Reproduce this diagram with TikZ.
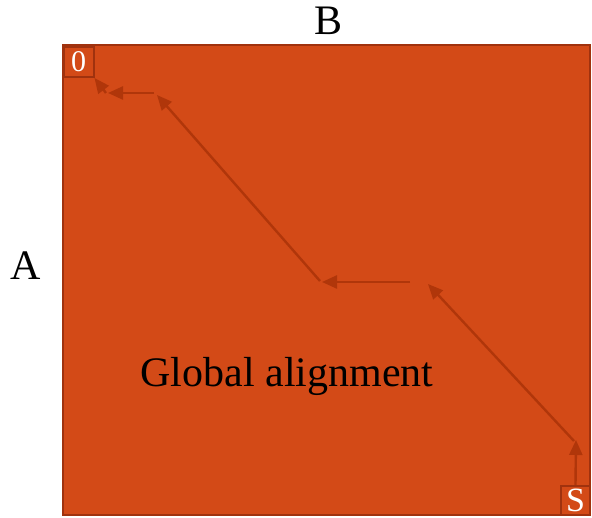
\documentclass[tikz,border=0pt]{standalone}
\usepackage{fontspec}
\setmainfont{Liberation Serif}
\usetikzlibrary{calc, positioning}
\usetikzlibrary{arrows.meta}

\definecolor{cellfill}{RGB}{211,74,23}
\definecolor{celledge}{RGB}{160,50,14}
\definecolor{tracecol}{RGB}{176,54,10}

\tikzset{
  cornerbox/.style={draw=celledge, line width=2pt, fill=cellfill, text=white,
    minimum size=30pt, inner sep=0pt},
  trace/.style={draw=tracecol, line width=2.4pt, -{Triangle[length=15pt,width=13pt]}}
}

\begin{document}
\begin{tikzpicture}[x=1pt,y=-1pt]
\useasboundingbox (0,0) rectangle (592,518);

\coordinate (M1) at (63,45);
\coordinate (M2) at (590,515);
\draw[draw=celledge, line width=2pt, fill=cellfill] (M1) rectangle (M2);

\node[cornerbox, font=\fontsize{30}{32}\selectfont] (orig) at (78.5,62) {0};
\node[cornerbox, minimum size=29pt, font=\fontsize{34}{36}\selectfont] (send) at (575.5,500.5) {S};

\node[anchor=base, font=\fontsize{42}{48}\selectfont] (seqA) at (26,280) {A};
\node[anchor=base, font=\fontsize{42}{48}\selectfont] (seqB) at (329,35) {B};
\node[anchor=base, font=\fontsize{42}{48}\selectfont] (title) at (287,387) {Global alignment};

% traceback path
\coordinate (T1) at (576,440);
\coordinate (T2a) at (574,441);
\coordinate (T2) at (428,284);
\coordinate (T3a) at (410,282);
\coordinate (T3) at (322,282);
\coordinate (T4a) at (320,281);
\coordinate (T4) at (157,95);
\coordinate (T5a) at (154,93);
\coordinate (T5) at (108,93);
\coordinate (T6a) at (106,93);

\draw[trace] (send.north) -- (T1);
\draw[trace] (T2a) -- (T2);
\draw[trace] (T3a) -- (T3);
\draw[trace] (T4a) -- (T4);
\draw[trace] (T5a) -- (T5);
\draw[trace] (T6a) -- (orig.south east);
\end{tikzpicture}
\end{document}
